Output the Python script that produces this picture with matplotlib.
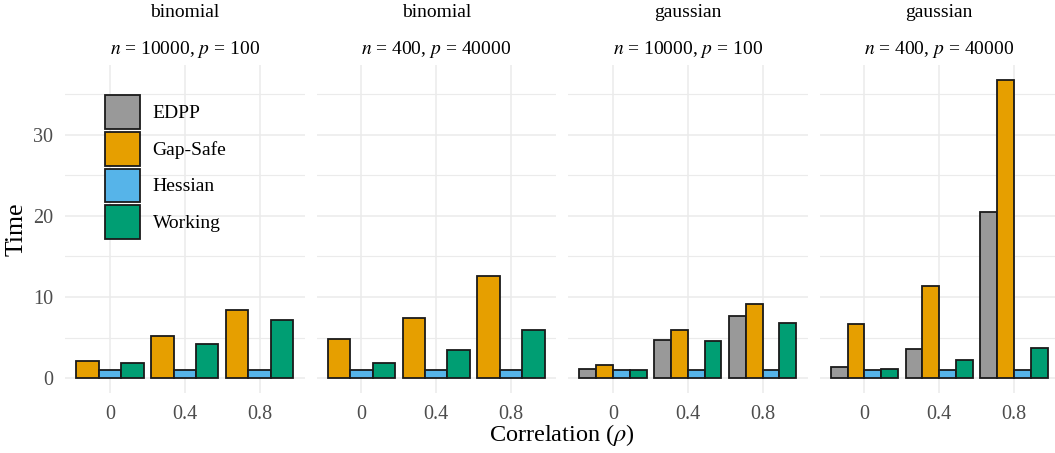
import numpy as np
import matplotlib
matplotlib.use("Agg")
import matplotlib.pyplot as plt
from matplotlib.patches import Patch

plt.rcParams['font.family'] = ['Liberation Serif', 'DejaVu Serif']
plt.rcParams['mathtext.fontset'] = 'stix'

nan = np.nan

# one entry per panel and correlation: 4 panels x 3 rho values
families = ["binomial", "binomial", "gaussian", "gaussian"]
n_obs = [10000, 400, 10000, 400]
n_feat = [100, 40000, 100, 40000]
rho_labels = ["0", "0.4", "0.8"]

methods = ["EDPP", "Gap-Safe", "Hessian", "Working"]
colors = ["#999999", "#E69F00", "#56B4E9", "#009E73"]

edpp = [nan, nan, nan, nan, nan, nan, 1.07, 4.68, 7.6, 1.32, 3.53, 20.5]
gap_safe = [2.13, 5.2, 8.45, 4.8, 7.43, 12.6, 1.55, 5.9, 9.1, 6.65, 11.38, 36.8]
hessian = [1, 1, 1, 1, 1, 1, 1, 1, 1, 1, 1, 1]
working = [1.9, 4.2, 7.2, 1.85, 3.48, 5.95, 0.97, 4.6, 6.85, 1.15, 2.18, 3.7]

W, H = 1055, 453
fig = plt.figure(figsize=(W / 100, H / 100), dpi=100)

ymax = np.nanmax([edpp, gap_safe, hessian, working])
ylim = (-0.05 * ymax, 1.05 * ymax)

lefts = [65, 316.5, 568, 819.5]
pw = 239.5
top, bottom = 64.6, 393
grid_col = "#EBEBEB"
series = [edpp, gap_safe, hessian, working]

axes = []
for k in range(4):
    ax = fig.add_axes([lefts[k] / W, 1 - bottom / H, pw / W, (bottom - top) / H])
    axes.append(ax)
    sl = slice(3 * k, 3 * k + 3)
    present = [i for i in range(4) if not np.all(np.isnan(series[i][sl]))]
    w = 0.9 / len(present)
    x = np.arange(1, 4)
    for j, i in enumerate(present):
        ax.bar(x - 0.45 + w * (j + 0.5), series[i][sl], width=w,
               color=colors[i], edgecolor="#1a1a1a", linewidth=1.3, zorder=3)
    ax.set_xlim(0.4, 3.6)
    ax.set_ylim(*ylim)
    ax.set_xticks(x)
    ax.set_xticklabels(rho_labels)
    ax.set_yticks([0, 10, 20, 30])
    ax.set_yticks([5, 15, 25, 35], minor=True)
    ax.grid(True, which="major", color=grid_col, linewidth=1.1, zorder=0)
    ax.grid(True, which="minor", axis="y", color=grid_col, linewidth=0.8, zorder=0)
    ax.tick_params(axis="both", which="both", length=0, labelsize=14.5, labelcolor="#4D4D4D")
    ax.tick_params(axis="x", pad=8.5)
    ax.tick_params(axis="y", pad=8.5)
    if k > 0:
        ax.tick_params(axis="y", labelleft=False)
    for s in ax.spines.values():
        s.set_visible(False)
    cx = (lefts[k] + pw / 2) / W
    fig.text(cx, 1 - 17 / H, families[k], ha="center", va="baseline", fontsize=14)
    fig.text(cx, 1 - 54 / H, r"$n$ = %d, $p$ = %d" % (n_obs[k], n_feat[k]),
             ha="center", va="baseline", fontsize=14)

fig.text(16.5 / W, 1 - 229 / H, "Time", rotation=90, ha="center", va="center", fontsize=18.5)
fig.text(562 / W, 1 - 441 / H, r"Correlation ($\rho$)", ha="center", va="baseline", fontsize=17.5)

handles = [Patch(facecolor=c, edgecolor="#1a1a1a", linewidth=1.3) for c in colors]
axes[0].legend(handles, methods, loc="upper left", bbox_to_anchor=(105 / W, 1 - 95 / H),
               bbox_transform=fig.transFigure, frameon=False, fontsize=14,
               handlelength=1.8, handleheight=2.3, labelspacing=0.15,
               handletextpad=0.65, borderpad=0, borderaxespad=0)

fig.savefig("out.png", dpi=100)
